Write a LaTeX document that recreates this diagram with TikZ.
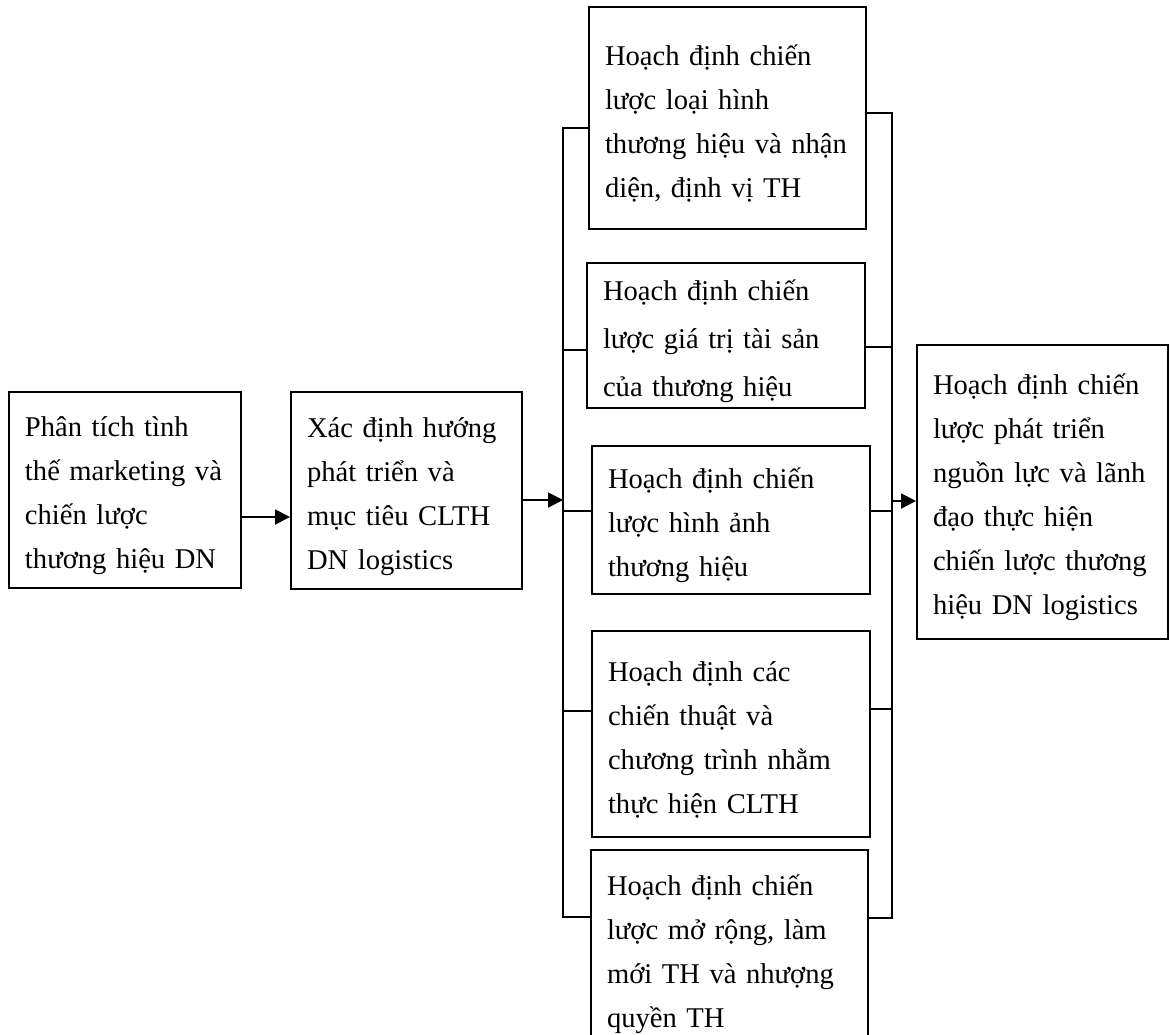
\documentclass[tikz,border=0pt]{standalone}
\usepackage{fontspec}
\setmainfont{Liberation Serif}
\usepackage{tikz}
\usetikzlibrary{arrows.meta}

\begin{document}
\begin{tikzpicture}[x=0.5pt, y=-0.5pt,
  box/.style={draw, line width=1pt, align=left, inner xsep=0pt, inner ysep=0pt,
              font=\fontsize{14.3}{22}\selectfont,
              execute at begin node={\rule{0pt}{16pt}}},
  arr/.style={-{Triangle[length=7.5pt,width=7.5pt]}, line width=1pt},
  bus/.style={line width=1pt}
]
  \useasboundingbox (0,0) rectangle (1170,1034);
  \node[box, minimum width=116pt, minimum height=98pt, text width=100pt]     (anal)  at (125,490)    {Phân tích tình\\thế~marketing~và\\chiến lược\\thương hiệu DN};
  \node[box, minimum width=115.5pt, minimum height=98.5pt, text width=99.5pt] (dinh) at (406.5,490.5) {Xác định hướng\\phát triển và\\mục tiêu CLTH\\DN logistics};
  \node[box, minimum width=138.5pt, minimum height=111pt, text width=122.5pt] (loai) at (727.5,118) {Hoạch định chiến\\lược loại hình\\thương~hiệu~và~nhận\\diện, định vị TH};
  \node[box, minimum width=139pt, minimum height=72.5pt, text width=123pt,
        font=\fontsize{14.3}{24}\selectfont]                                  (gtri) at (726,335.5) {Hoạch định chiến\\lược giá trị tài sản\\của thương hiệu};
  \node[box, minimum width=139pt, minimum height=74pt, text width=123pt]    (hanh)  at (731,520)    {Hoạch định chiến\\lược hình ảnh\\thương hiệu};
  \node[box, minimum width=139pt, minimum height=103pt, text width=123pt]   (chth)  at (731,734)    {Hoạch định các\\chiến thuật và\\chương trình nhằm\\thực hiện CLTH};
  \node[box, minimum width=138.5pt, minimum height=99pt, text width=122.5pt] (mrong) at (729.5,949) {Hoạch định chiến\\lược mở rộng, làm\\mới TH và nhượng\\quyền TH};
  \node[box, minimum width=125.5pt, minimum height=147pt, text width=109.5pt] (nluc) at (1042.5,492) {Hoạch định chiến\\lược phát triển\\nguồn lực và lãnh\\đạo thực hiện\\chiến~lược~thương\\hiệu DN logistics};
  % Left bus
  \foreach \n/\y in {loai/128, gtri/350, hanh/511, chth/711, mrong/917}
    \coordinate (L\n) at (563,\y);
  \draw[bus] (loai.west |- Lloai) -- (Lloai) -- (Lmrong) -- (mrong.west |- Lmrong);
  \foreach \n in {gtri, hanh, chth}
    \draw[bus] (L\n) -- (\n.west |- L\n);
  % Right bus
  \foreach \n/\y in {loai/113, gtri/347, hanh/511, chth/709, mrong/918}
    \coordinate (R\n) at (892,\y);
  \draw[bus] (loai.east |- Rloai) -- (Rloai) -- (Rmrong) -- (mrong.east |- Rmrong);
  \foreach \n in {gtri, hanh, chth}
    \draw[bus] (\n.east |- R\n) -- (R\n);
  % Arrows
  \coordinate (j1) at (0,517);
  \coordinate (Lin) at (563,500);
  \coordinate (Rout) at (892,501);
  \draw[arr] (anal.east |- j1) -- (dinh.west |- j1);
  \draw[arr] (dinh.east |- Lin) -- (Lin);
  \draw[arr] (Rout) -- (nluc.west |- Rout);
\end{tikzpicture}
\end{document}
